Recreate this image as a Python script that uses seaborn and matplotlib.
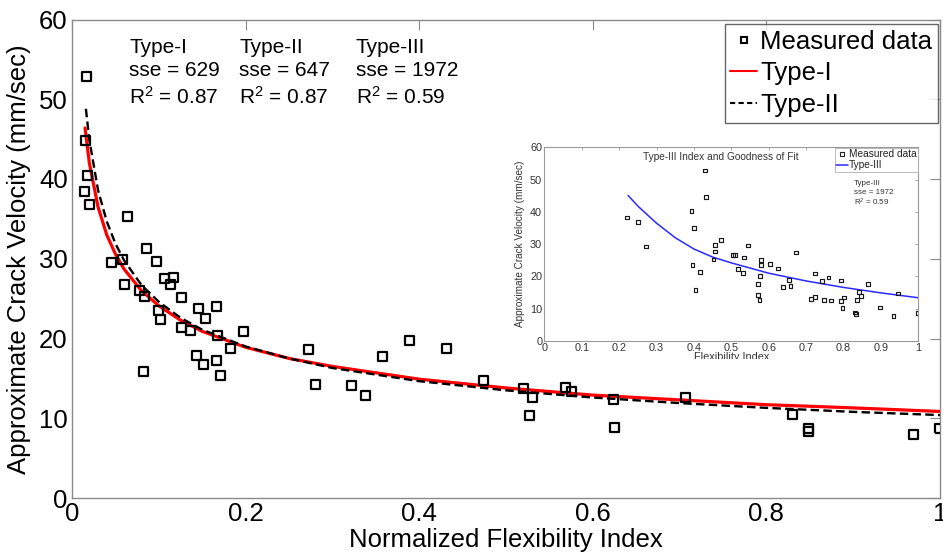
import matplotlib
matplotlib.use("Agg")
import matplotlib.pyplot as plt
import seaborn as sns
import pandas as pd
from matplotlib.lines import Line2D
from matplotlib.transforms import Bbox
from matplotlib.patches import Rectangle

# ---------------- data ----------------
norm_flex = [0.0165, 0.015, 0.018, 0.014, 0.0207, 0.0634, 0.0856, 0.0979, 0.0457, 0.058,
             0.106, 0.117, 0.1133, 0.061, 0.0772, 0.084, 0.1256, 0.1002, 0.1014, 0.1463,
             0.1663, 0.1536, 0.126, 0.1363, 0.1975, 0.1678, 0.1824, 0.1432, 0.152, 0.166,
             0.1709, 0.0826, 0.273, 0.281, 0.322, 0.338, 0.358, 0.389, 0.432, 0.474,
             0.5196, 0.530, 0.527, 0.568, 0.575, 0.624, 0.625, 0.707, 0.830, 0.849,
             0.849, 0.970, 0.9995]
crack_vel = [52.9, 44.8, 40.4, 38.4, 36.8, 35.3, 31.3, 29.7, 29.5, 29.9,
             27.5, 27.7, 26.8, 26.8, 26.0, 25.3, 25.1, 23.5, 22.4, 23.7,
             24.0, 22.5, 21.4, 21.0, 20.9, 20.4, 18.8, 17.9, 16.8, 17.2,
             15.4, 15.8, 18.6, 14.2, 14.1, 12.9, 17.8, 19.8, 18.8, 14.7,
             13.7, 12.65, 10.3, 13.8, 13.3, 12.4, 8.9, 12.6, 10.5, 8.7,
             8.3, 7.9, 8.7]

fit_x = [0.015, 0.02, 0.03, 0.04, 0.05, 0.06, 0.08, 0.10, 0.125, 0.15,
         0.2, 0.25, 0.3, 0.4, 0.5, 0.6, 0.7, 0.8, 0.9, 1.0]
type1_y = [46.4, 42.0, 36.5, 33.0, 30.6, 28.7, 26.0, 24.1, 22.3, 20.9,
           18.9, 17.5, 16.5, 14.9, 13.8, 12.9, 12.3, 11.7, 11.3, 10.85]
type2_x = [0.016, 0.02, 0.03, 0.04, 0.05, 0.06, 0.08, 0.10, 0.125, 0.15,
           0.2, 0.25, 0.3, 0.4, 0.5, 0.6, 0.7, 0.8, 0.9, 1.0]
type2_y = [48.8, 44.9, 38.6, 34.7, 31.9, 29.8, 26.7, 24.6, 22.6, 21.1,
           19.0, 17.5, 16.3, 14.65, 13.5, 12.6, 11.9, 11.3, 10.8, 10.4]

flex_index = [0.222, 0.2505, 0.272, 0.394, 0.401, 0.396, 0.404, 0.417, 0.4297, 0.4316,
              0.452, 0.4565, 0.457, 0.4716, 0.5053, 0.509, 0.5187, 0.532, 0.5348, 0.5438,
              0.5706, 0.572, 0.575, 0.5775, 0.5786, 0.580, 0.604, 0.6249, 0.638, 0.6535,
              0.658, 0.673, 0.713, 0.723, 0.7238, 0.7425, 0.747, 0.760, 0.767, 0.7925,
              0.794, 0.797, 0.801, 0.831, 0.833, 0.836, 0.8406, 0.846, 0.866, 0.898,
              0.934, 0.945, 1.0]
crack_vel_inset = [38.3, 36.8, 29.3, 40.3, 35.1, 23.5, 15.7, 21.3, 52.8, 44.6,
                   25.2, 29.8, 27.7, 31.3, 26.6, 26.6, 22.4, 21.0, 25.9, 29.6,
                   14.25, 17.7, 12.8, 20.2, 25.0, 23.5, 23.9, 22.5, 16.7, 18.8,
                   17.1, 27.4, 13.1, 13.7, 20.9, 18.6, 12.6, 19.7, 12.5, 12.4,
                   18.7, 10.2, 13.5, 8.8, 8.4, 12.8, 15.2, 14.0, 17.7, 10.4,
                   7.7, 14.7, 8.6]
type3_x = [0.224, 0.25, 0.3, 0.35, 0.4, 0.45, 0.5, 0.6, 0.7, 0.8, 0.9, 1.0]
type3_y = [45.1, 41.8, 36.5, 32.0, 28.5, 26.0, 24.2, 21.0, 18.6, 16.6, 14.9, 13.4]

x_ticks = [0, 0.2, 0.4, 0.6, 0.8, 1.0]
x_tick_labels = ["0", "0.2", "0.4", "0.6", "0.8", "1"]
y_ticks = [0, 10, 20, 30, 40, 50, 60]
inset_x_ticks = [0, 0.1, 0.2, 0.3, 0.4, 0.5, 0.6, 0.7, 0.8, 0.9, 1.0]
inset_x_labels = ["0", "0.1", "0.2", "0.3", "0.4", "0.5", "0.6", "0.7", "0.8", "0.9", "1"]

fit_labels = ["Type-I", "Type-II", "Type-III"]
fit_sse = ["629", "647", "1972"]
fit_r2 = ["0.87", "0.87", "0.59"]

# ---------------- style ----------------
sns.set_style("white")
plt.rcParams["font.family"] = ["Liberation Sans", "DejaVu Sans"]
plt.rcParams["mathtext.fontset"] = "custom"
plt.rcParams["mathtext.rm"] = "Liberation Sans"
plt.rcParams["mathtext.it"] = "Liberation Sans:italic"
plt.rcParams["text.color"] = "black"
plt.rcParams["axes.labelcolor"] = "black"

W, H = 943, 555
fig = plt.figure(figsize=(W / 100, H / 100), dpi=100)
spine_gray = "#8a8a8a"

def fx(px):
    return px / W

def fy(py):
    return 1 - py / H

# ---------------- main axes ----------------
L, R, T, B = 72, 940, 19.5, 498
ax = fig.add_axes([fx(L), fy(B), (R - L) / W, (B - T) / H])
main_df = pd.DataFrame({"x": norm_flex, "y": crack_vel})
sns.scatterplot(data=main_df, x="x", y="y", marker="s", s=42, facecolor="none",
                edgecolor="black", linewidth=1.6, ax=ax, zorder=3)
sns.lineplot(x=fit_x, y=type1_y, color="#ff0000", lw=2.3, ax=ax, zorder=2)
sns.lineplot(x=type2_x, y=type2_y, color="black", lw=1.7, ax=ax, zorder=2.5)
ax.lines[-1].set_dashes((3.6, 1.8))

ax.set_xlim(0, 1)
ax.set_ylim(0, 60)
ax.set_xticks(x_ticks)
ax.set_xticklabels(x_tick_labels)
ax.set_yticks(y_ticks)
ax.tick_params(direction="in", length=7, width=0.8, color=spine_gray, labelsize=18.5,
               top=True, right=True, labelcolor="black")
ax.tick_params(axis="x", pad=3)
ax.tick_params(axis="y", pad=3)
for s in ax.spines.values():
    s.set_color(spine_gray)
    s.set_linewidth(1.0)
    s.set_visible(True)
ax.set_xlabel("Normalized Flexibility Index", fontsize=18.5, color="black")
ax.set_ylabel("Approximate Crack Velocity (mm/sec)", fontsize=18.5, color="black")
ax.xaxis.set_label_coords(0.5, -0.063)
ax.yaxis.set_label_coords(-0.047, 0.5)

# legend
handles = [
    Line2D([], [], marker="s", ls="none", ms=5, mfc="none", mec="black", mew=1.5),
    Line2D([], [], color="#ff0000", lw=1.5),
    Line2D([], [], color="black", lw=1.5, ls=(0, (2.5, 1.6))),
]
leg = ax.legend(handles, ["Measured data", "Type-I", "Type-II"], fontsize=18.5,
                loc="upper right", bbox_to_anchor=(fx(938), fy(24)),
                bbox_transform=fig.transFigure, borderaxespad=0, frameon=True,
                fancybox=False, handlelength=1.05, handletextpad=0.12,
                borderpad=0.22, labelspacing=0.3)
leg.get_frame().set_edgecolor("#404040")
leg.get_frame().set_linewidth(1.0)
for t in leg.get_texts():
    t.set_color("black")

# fit annotations
ann_x = [129, 239, 356]
for xp, lab, sse, r2 in zip(ann_x, fit_labels, fit_sse, fit_r2):
    fig.text(fx(xp), fy(52.7), lab, fontsize=15, va="baseline", ha="left", color="black")
    fig.text(fx(xp), fy(76), "sse = " + sse, fontsize=15, va="baseline", ha="left",
             color="black")
    fig.text(fx(xp), fy(104.3), r"R$^2$ = " + r2, fontsize=15, va="baseline", ha="left",
             color="black")

# ---------------- inset ----------------
bg = Rectangle((fx(505), fy(362)), fx(930) - fx(505), fy(135) - fy(362),
               transform=fig.transFigure, facecolor="white", edgecolor="none", zorder=1.5)
fig.patches.append(bg)

iL, iR, iT, iB = 544.3, 918.3, 147.3, 341
ax2 = fig.add_axes([fx(iL), fy(iB), (iR - iL) / W, (iB - iT) / H], zorder=2)
inset_df = pd.DataFrame({"x": flex_index, "y": crack_vel_inset})
sns.scatterplot(data=inset_df, x="x", y="y", marker="s", s=7, facecolor="none",
                edgecolor="#1a1a1a", linewidth=0.85, ax=ax2, zorder=3)
sns.lineplot(x=type3_x, y=type3_y, color="#2a2aff", lw=1.1, ax=ax2)
ax2.set_xlim(0, 1)
ax2.set_ylim(0, 60)
ax2.set_xticks(inset_x_ticks)
ax2.set_xticklabels(inset_x_labels)
ax2.set_yticks(y_ticks)
ax2.tick_params(direction="in", length=2.5, width=0.6, color="#999999", labelsize=7.8,
                top=True, right=True, labelcolor="#333333", pad=1.5)
for s in ax2.spines.values():
    s.set_color("#999999")
    s.set_linewidth(0.8)
    s.set_visible(True)
ax2.set_xlabel("Flexibility Index", fontsize=7.8, color="#333333")
ax2.set_ylabel("Approximate Crack Velocity (mm/sec)", fontsize=7.2, color="#333333")
ax2.xaxis.set_label_coords(0.5, -0.057)
ax2.yaxis.set_label_coords(-0.052, 0.5)
ax2.text(0.4725, 0.95, "Type-III Index and Goodness of Fit", transform=ax2.transAxes,
         fontsize=7.3, color="#333333", ha="center", va="center")
clip = Bbox.from_extents(0, H - 358.5, W, H)
ax2.xaxis.label.set_clip_box(clip)
ax2.xaxis.label.set_clip_on(True)

ih = [
    Line2D([], [], marker="s", ls="none", ms=2.6, mfc="none", mec="#222222", mew=0.8),
    Line2D([], [], color="#2a2aff", lw=1.1),
]
leg2 = ax2.legend(ih, ["Measured data", "Type-III"], fontsize=7.3, loc="upper right",
                  borderaxespad=0.05, fancybox=False, handlelength=1.1,
                  handletextpad=0.1, borderpad=0.15, labelspacing=0.1)
leg2.get_frame().set_edgecolor("#aaaaaa")
leg2.get_frame().set_linewidth(0.7)
for txt in leg2.get_texts():
    txt.set_color("#222222")

ax2.text(fx(854), fy(183.3), "Type-III", transform=fig.transFigure, fontsize=5.8,
         color="#333333", va="center", ha="left")
ax2.text(fx(854), fy(192.7), "sse = 1972", transform=fig.transFigure, fontsize=5.8,
         color="#333333", va="center", ha="left")
ax2.text(fx(854), fy(202.7), r"R$^2$ = 0.59", transform=fig.transFigure, fontsize=5.8,
         color="#333333", va="center", ha="left")

fig.savefig("out.png", dpi=100)
